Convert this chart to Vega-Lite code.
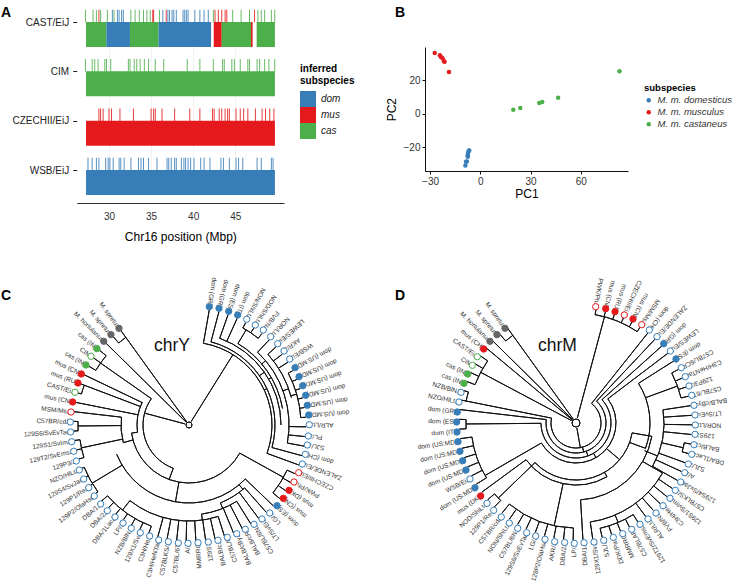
{
"$schema":"https://vega.github.io/schema/vega-lite/v6.json",
"padding":0,
"autosize":{"type":"pad"},
"columns":2,"spacing":0,"bounds":"flush","align":"each",
"resolve":{"scale":{"color":"independent"},"legend":{"color":"independent"}},
"config":{"view":{"stroke":null},"font":"Liberation Sans","title":{"font":"Liberation Sans","fontSize":14,"fontWeight":"bold","anchor":"start","frame":"group","color":"#000"}},
"datasets":{
"blocks":[
{"strain":"CAST/EiJ","start":27.27,"end":29.68,"sub":"cas"},{"strain":"CAST/EiJ","start":29.68,"end":32.49,"sub":"dom"},{"strain":"CAST/EiJ","start":32.49,"end":35.89,"sub":"cas"},{"strain":"CAST/EiJ","start":35.89,"end":42.13,"sub":"dom"},{"strain":"CAST/EiJ","start":42.45,"end":43.4,"sub":"mus"},{"strain":"CAST/EiJ","start":43.4,"end":46.88,"sub":"cas"},{"strain":"CAST/EiJ","start":46.88,"end":47.07,"sub":"mus"},{"strain":"CAST/EiJ","start":47.55,"end":49.72,"sub":"cas"},
{"strain":"CIM","start":27.27,"end":49.72,"sub":"cas"},{"strain":"CZECHII/EiJ","start":27.27,"end":49.72,"sub":"mus"},{"strain":"WSB/EiJ","start":27.27,"end":49.72,"sub":"dom"}],
"snps":[
{"strain":"CAST/EiJ","sub":"cas","pos":27.2},{"strain":"CAST/EiJ","sub":"cas","pos":28.1},{"strain":"CAST/EiJ","sub":"cas","pos":28.5},{"strain":"CAST/EiJ","sub":"cas","pos":29.0},{"strain":"CAST/EiJ","sub":"cas","pos":29.8},{"strain":"CAST/EiJ","sub":"cas","pos":30.6},{"strain":"CAST/EiJ","sub":"cas","pos":32.6},{"strain":"CAST/EiJ","sub":"cas","pos":33.1},{"strain":"CAST/EiJ","sub":"cas","pos":33.6},{"strain":"CAST/EiJ","sub":"cas","pos":34.1},{"strain":"CAST/EiJ","sub":"cas","pos":34.5},{"strain":"CAST/EiJ","sub":"cas","pos":34.9},{"strain":"CAST/EiJ","sub":"cas","pos":36.0},{"strain":"CAST/EiJ","sub":"cas","pos":42.4},{"strain":"CAST/EiJ","sub":"cas","pos":44.7},{"strain":"CAST/EiJ","sub":"cas","pos":45.7},{"strain":"CAST/EiJ","sub":"cas","pos":46.7},{"strain":"CAST/EiJ","sub":"cas","pos":47.7},{"strain":"CAST/EiJ","sub":"cas","pos":48.1},{"strain":"CAST/EiJ","sub":"cas","pos":48.5},{"strain":"CAST/EiJ","sub":"cas","pos":49.3},{"strain":"CAST/EiJ","sub":"cas","pos":49.7},
{"strain":"CAST/EiJ","sub":"dom","pos":30.4},{"strain":"CAST/EiJ","sub":"dom","pos":31.0},{"strain":"CAST/EiJ","sub":"dom","pos":31.2},{"strain":"CAST/EiJ","sub":"dom","pos":31.5},{"strain":"CAST/EiJ","sub":"dom","pos":31.7},{"strain":"CAST/EiJ","sub":"dom","pos":36.4},{"strain":"CAST/EiJ","sub":"dom","pos":37.0},{"strain":"CAST/EiJ","sub":"dom","pos":37.2},{"strain":"CAST/EiJ","sub":"dom","pos":37.5},{"strain":"CAST/EiJ","sub":"dom","pos":37.7},{"strain":"CAST/EiJ","sub":"dom","pos":38.0},{"strain":"CAST/EiJ","sub":"dom","pos":38.8},{"strain":"CAST/EiJ","sub":"dom","pos":39.0},{"strain":"CAST/EiJ","sub":"dom","pos":39.2},{"strain":"CAST/EiJ","sub":"dom","pos":39.4},{"strain":"CAST/EiJ","sub":"dom","pos":40.2},{"strain":"CAST/EiJ","sub":"dom","pos":40.8},{"strain":"CAST/EiJ","sub":"dom","pos":41.3},{"strain":"CAST/EiJ","sub":"dom","pos":41.8},
{"strain":"CAST/EiJ","sub":"mus","pos":28.8},{"strain":"CAST/EiJ","sub":"mus","pos":35.2},{"strain":"CAST/EiJ","sub":"mus","pos":35.3},{"strain":"CAST/EiJ","sub":"mus","pos":36.8},{"strain":"CAST/EiJ","sub":"mus","pos":42.6},{"strain":"CAST/EiJ","sub":"mus","pos":43.0},{"strain":"CAST/EiJ","sub":"mus","pos":43.4},{"strain":"CAST/EiJ","sub":"mus","pos":43.8},{"strain":"CAST/EiJ","sub":"mus","pos":44.0},{"strain":"CAST/EiJ","sub":"mus","pos":47.3},
{"strain":"CIM","sub":"cas","pos":27.2},{"strain":"CIM","sub":"cas","pos":28.0},{"strain":"CIM","sub":"cas","pos":28.3},{"strain":"CIM","sub":"cas","pos":28.7},{"strain":"CIM","sub":"cas","pos":29.5},{"strain":"CIM","sub":"cas","pos":29.7},{"strain":"CIM","sub":"cas","pos":30.2},{"strain":"CIM","sub":"cas","pos":32.3},{"strain":"CIM","sub":"cas","pos":32.5},{"strain":"CIM","sub":"cas","pos":33.0},{"strain":"CIM","sub":"cas","pos":33.3},{"strain":"CIM","sub":"cas","pos":33.7},{"strain":"CIM","sub":"cas","pos":34.2},{"strain":"CIM","sub":"cas","pos":34.7},{"strain":"CIM","sub":"cas","pos":35.5},{"strain":"CIM","sub":"cas","pos":36.5},{"strain":"CIM","sub":"cas","pos":39.3},{"strain":"CIM","sub":"cas","pos":40.8},{"strain":"CIM","sub":"cas","pos":42.4},{"strain":"CIM","sub":"cas","pos":43.5},{"strain":"CIM","sub":"cas","pos":43.7},{"strain":"CIM","sub":"cas","pos":44.6},{"strain":"CIM","sub":"cas","pos":44.9},{"strain":"CIM","sub":"cas","pos":45.6},{"strain":"CIM","sub":"cas","pos":46.5},{"strain":"CIM","sub":"cas","pos":46.7},{"strain":"CIM","sub":"cas","pos":47.6},{"strain":"CIM","sub":"cas","pos":47.9},{"strain":"CIM","sub":"cas","pos":48.5},{"strain":"CIM","sub":"cas","pos":49.0},{"strain":"CIM","sub":"cas","pos":49.7},
{"strain":"CZECHII/EiJ","sub":"mus","pos":28.8},{"strain":"CZECHII/EiJ","sub":"mus","pos":29.0},{"strain":"CZECHII/EiJ","sub":"mus","pos":29.3},{"strain":"CZECHII/EiJ","sub":"mus","pos":30.0},{"strain":"CZECHII/EiJ","sub":"mus","pos":30.3},{"strain":"CZECHII/EiJ","sub":"mus","pos":31.3},{"strain":"CZECHII/EiJ","sub":"mus","pos":32.9},{"strain":"CZECHII/EiJ","sub":"mus","pos":35.0},{"strain":"CZECHII/EiJ","sub":"mus","pos":35.3},{"strain":"CZECHII/EiJ","sub":"mus","pos":35.5},{"strain":"CZECHII/EiJ","sub":"mus","pos":36.3},{"strain":"CZECHII/EiJ","sub":"mus","pos":37.8},{"strain":"CZECHII/EiJ","sub":"mus","pos":39.6},{"strain":"CZECHII/EiJ","sub":"mus","pos":40.8},{"strain":"CZECHII/EiJ","sub":"mus","pos":42.3},{"strain":"CZECHII/EiJ","sub":"mus","pos":42.5},{"strain":"CZECHII/EiJ","sub":"mus","pos":43.1},{"strain":"CZECHII/EiJ","sub":"mus","pos":43.4},{"strain":"CZECHII/EiJ","sub":"mus","pos":43.8},{"strain":"CZECHII/EiJ","sub":"mus","pos":44.1},{"strain":"CZECHII/EiJ","sub":"mus","pos":44.3},{"strain":"CZECHII/EiJ","sub":"mus","pos":45.1},{"strain":"CZECHII/EiJ","sub":"mus","pos":45.6},{"strain":"CZECHII/EiJ","sub":"mus","pos":46.0},{"strain":"CZECHII/EiJ","sub":"mus","pos":46.5},{"strain":"CZECHII/EiJ","sub":"mus","pos":47.4},{"strain":"CZECHII/EiJ","sub":"mus","pos":48.2},{"strain":"CZECHII/EiJ","sub":"mus","pos":48.6},{"strain":"CZECHII/EiJ","sub":"mus","pos":49.1},{"strain":"CZECHII/EiJ","sub":"mus","pos":49.6},
{"strain":"WSB/EiJ","sub":"dom","pos":27.5},{"strain":"WSB/EiJ","sub":"dom","pos":28.0},{"strain":"WSB/EiJ","sub":"dom","pos":28.5},{"strain":"WSB/EiJ","sub":"dom","pos":28.8},{"strain":"WSB/EiJ","sub":"dom","pos":29.6},{"strain":"WSB/EiJ","sub":"dom","pos":29.9},{"strain":"WSB/EiJ","sub":"dom","pos":30.1},{"strain":"WSB/EiJ","sub":"dom","pos":30.5},{"strain":"WSB/EiJ","sub":"dom","pos":31.2},{"strain":"WSB/EiJ","sub":"dom","pos":31.4},{"strain":"WSB/EiJ","sub":"dom","pos":31.8},{"strain":"WSB/EiJ","sub":"dom","pos":32.6},{"strain":"WSB/EiJ","sub":"dom","pos":33.5},{"strain":"WSB/EiJ","sub":"dom","pos":33.8},{"strain":"WSB/EiJ","sub":"dom","pos":34.1},{"strain":"WSB/EiJ","sub":"dom","pos":34.7},{"strain":"WSB/EiJ","sub":"dom","pos":35.7},{"strain":"WSB/EiJ","sub":"dom","pos":36.9},{"strain":"WSB/EiJ","sub":"dom","pos":37.1},{"strain":"WSB/EiJ","sub":"dom","pos":37.4},{"strain":"WSB/EiJ","sub":"dom","pos":37.8},{"strain":"WSB/EiJ","sub":"dom","pos":38.0},{"strain":"WSB/EiJ","sub":"dom","pos":38.6},{"strain":"WSB/EiJ","sub":"dom","pos":38.9},{"strain":"WSB/EiJ","sub":"dom","pos":39.1},{"strain":"WSB/EiJ","sub":"dom","pos":39.4},{"strain":"WSB/EiJ","sub":"dom","pos":39.7},{"strain":"WSB/EiJ","sub":"dom","pos":40.1},{"strain":"WSB/EiJ","sub":"dom","pos":40.9},{"strain":"WSB/EiJ","sub":"dom","pos":41.3},{"strain":"WSB/EiJ","sub":"dom","pos":42.0},{"strain":"WSB/EiJ","sub":"dom","pos":43.3},{"strain":"WSB/EiJ","sub":"dom","pos":43.6},{"strain":"WSB/EiJ","sub":"dom","pos":44.3},{"strain":"WSB/EiJ","sub":"dom","pos":45.1},{"strain":"WSB/EiJ","sub":"dom","pos":45.4},{"strain":"WSB/EiJ","sub":"dom","pos":45.9},{"strain":"WSB/EiJ","sub":"dom","pos":47.6},{"strain":"WSB/EiJ","sub":"dom","pos":48.1},{"strain":"WSB/EiJ","sub":"dom","pos":49.3},{"strain":"WSB/EiJ","sub":"dom","pos":49.5}],
"pca":[
{"s":"M. m. musculus","pc1":-27.2,"pc2":36.4},{"s":"M. m. musculus","pc1":-24.1,"pc2":35},{"s":"M. m. musculus","pc1":-23.5,"pc2":34},{"s":"M. m. musculus","pc1":-22.5,"pc2":33.2},{"s":"M. m. musculus","pc1":-21.7,"pc2":31.4},{"s":"M. m. musculus","pc1":-21.3,"pc2":31.2},{"s":"M. m. musculus","pc1":-18.7,"pc2":25},
{"s":"M. m. castaneus","pc1":19.7,"pc2":2.4},{"s":"M. m. castaneus","pc1":23.9,"pc2":3.4},{"s":"M. m. castaneus","pc1":35.2,"pc2":6.4},{"s":"M. m. castaneus","pc1":37,"pc2":7},{"s":"M. m. castaneus","pc1":46.5,"pc2":9.6},{"s":"M. m. castaneus","pc1":83.1,"pc2":25.4},
{"s":"M. m. domesticus","pc1":-6.8,"pc2":-22.2},{"s":"M. m. domesticus","pc1":-7.2,"pc2":-23},{"s":"M. m. domesticus","pc1":-7.4,"pc2":-24.2},{"s":"M. m. domesticus","pc1":-7.6,"pc2":-25.2},{"s":"M. m. domesticus","pc1":-8.5,"pc2":-28.8},{"s":"M. m. domesticus","pc1":-8.9,"pc2":-31},{"s":"M. m. domesticus","pc1":-8,"pc2":-28.6},{"s":"M. m. domesticus","pc1":-6.6,"pc2":-22},{"s":"M. m. domesticus","pc1":-7.4,"pc2":-25.8}],
"tipsC":[
{"n":"dom (GR)","x":20.3,"y":-118.3,"t":10,"s":83,"k":"dom","o":0},{"n":"dom (GR)","x":30,"y":-116.7,"t":14.8,"s":86,"k":"dom","o":0},{"n":"dom (ES)","x":39.7,"y":-113.7,"t":19.5,"s":92,"k":"dom","o":0},{"n":"dom (IT)","x":48.7,"y":-110,"t":24.3,"s":92,"k":"dom","o":0},
{"n":"NON/ShiLtJ","x":57.7,"y":-105.7,"t":29,"s":111,"k":"dom","o":1},{"n":"NOD/ShiLtJ","x":66.3,"y":-100,"t":33.8,"s":111,"k":"dom","o":1},{"n":"FVB/NJ","x":74.3,"y":-95,"t":38.6,"s":111,"k":"dom","o":1},{"n":"NOR/LtJ","x":81.7,"y":-88.3,"t":43.3,"s":100,"k":"dom","o":1},{"n":"LEWES/EiJ","x":88.7,"y":-81.3,"t":48.1,"s":106,"k":"dom","o":1},{"n":"AKR/J","x":95,"y":-74,"t":52.8,"s":106,"k":"dom","o":1},{"n":"WSB/EiJ","x":100.7,"y":-66,"t":57.6,"s":106,"k":"dom","o":1},
{"n":"dom (US:MD)","x":106,"y":-57.3,"t":62.4,"s":112,"k":"dom","o":0},{"n":"dom (US:MD)","x":110,"y":-48.3,"t":67.1,"s":112,"k":"dom","o":0},{"n":"dom (US:MD)","x":113.7,"y":-39.3,"t":71.9,"s":112,"k":"dom","o":0},{"n":"dom (US:MD)","x":116.7,"y":-29.7,"t":76.6,"s":112,"k":"dom","o":0},{"n":"dom (US:MD)","x":118.3,"y":-19.7,"t":81.4,"s":112,"k":"dom","o":0},{"n":"dom (US:MD)","x":119.7,"y":-10,"t":86.2,"s":112,"k":"dom","o":0},
{"n":"ALR/LtJ","x":120.3,"y":-0.3,"t":90.9,"s":100,"k":"dom","o":1},{"n":"PL/J","x":119.3,"y":11,"t":95.7,"s":100,"k":"dom","o":1},{"n":"SJL/J","x":118.3,"y":20,"t":100.4,"s":100,"k":"dom","o":1},{"n":"dom (CH)","x":116.3,"y":29.3,"t":105.2,"s":86,"k":"dom","o":1},{"n":"ZALENDE/EiJ","x":113.3,"y":39,"t":110,"s":83,"k":"dom","o":1},
{"n":"CZECHII/EiJ","x":109.7,"y":47.7,"t":114.7,"s":108,"k":"mus","o":1},{"n":"PWK/PhJ","x":105,"y":57,"t":119.5,"s":108,"k":"mus","o":1},{"n":"mus (DK)","x":100,"y":65.3,"t":124.2,"s":108,"k":"mus","o":0},{"n":"mus (CN)","x":94.3,"y":73.3,"t":129,"s":108,"k":"mus","o":0},{"n":"dom (ES)","x":88,"y":80.7,"t":133.8,"s":78,"k":"dom","o":0},
{"n":"LG/J","x":80.7,"y":88,"t":138.5,"s":84,"k":"dom","o":1},{"n":"LT/SvEiJ","x":73,"y":94,"t":143.3,"s":84,"k":"dom","o":1},{"n":"C57BL/6NJ","x":65,"y":99.3,"t":148,"s":90,"k":"dom","o":1},{"n":"BALB/cRl","x":56.3,"y":104.3,"t":152.8,"s":90,"k":"dom","o":1},{"n":"BALB/cByJ","x":47.7,"y":108.7,"t":157.6,"s":90,"k":"dom","o":1},{"n":"C57BL/6","x":38.3,"y":112.3,"t":162.3,"s":96,"k":"dom","o":1},{"n":"BALB/cJ","x":29,"y":115.3,"t":167.1,"s":96,"k":"dom","o":1},{"n":"129S7","x":19.3,"y":117,"t":171.8,"s":96,"k":"dom","o":1},{"n":"MMRRC","x":9,"y":117.7,"t":176.6,"s":96,"k":"dom","o":1},{"n":"A/J","x":-1,"y":118.3,"t":181.4,"s":96,"k":"dom","o":1},{"n":"C57BL/6T","x":-10.7,"y":118,"t":186.1,"s":96,"k":"dom","o":1},{"n":"C57BLKS/J","x":-20.7,"y":116.7,"t":190.9,"s":96,"k":"dom","o":1},{"n":"C3H/HeNTac","x":-30.3,"y":115,"t":195.6,"s":96,"k":"dom","o":1},
{"n":"C3H/HeJ","x":-39.3,"y":111,"t":200.4,"s":108,"k":"dom","o":1},{"n":"129X1/SvJ","x":-48.7,"y":107.7,"t":205.2,"s":108,"k":"dom","o":1},{"n":"NZB/BlNJ","x":-57.7,"y":103.3,"t":209.9,"s":108,"k":"dom","o":1},{"n":"LP/J","x":-66,"y":98,"t":214.7,"s":108,"k":"dom","o":1},{"n":"DBA/1LacJ","x":-74,"y":92,"t":219.4,"s":108,"k":"dom","o":1},{"n":"DBA/2J","x":-81.7,"y":85.7,"t":224.2,"s":108,"k":"dom","o":1},{"n":"DBA/1J","x":-88.3,"y":79,"t":229,"s":108,"k":"dom","o":1},
{"n":"129P2/OlaHsd","x":-94.7,"y":71,"t":233.7,"s":113,"k":"dom","o":1},{"n":"129P1/ReJ","x":-100.3,"y":62.7,"t":238.5,"s":113,"k":"dom","o":1},{"n":"129S4/SvJae","x":-105.3,"y":54,"t":243.2,"s":113,"k":"dom","o":1},{"n":"NZO/HlLtJ","x":-109.7,"y":45,"t":248,"s":113,"k":"dom","o":1},{"n":"129P3/J","x":-112.7,"y":36,"t":252.8,"s":110,"k":"dom","o":1},{"n":"129T2/SvEmsJ","x":-115.3,"y":26.3,"t":257.5,"s":110,"k":"dom","o":1},{"n":"129S1/SvImJ","x":-117.3,"y":16.7,"t":262.3,"s":110,"k":"dom","o":1},{"n":"129S6/SvEvTac","x":-118.3,"y":7,"t":267,"s":111,"k":"dom","o":1},{"n":"C57BR/cdJ","x":-118.7,"y":-3,"t":271.8,"s":111,"k":"dom","o":1},
{"n":"MSM/MsJ","x":-118,"y":-13,"t":276.6,"s":68,"k":"mus","o":1},{"n":"mus (CN)","x":-116.3,"y":-23,"t":281.3,"s":52,"k":"mus","o":0},{"n":"CAST/EiJ","x":-114,"y":-32.7,"t":286.1,"s":112,"k":"cas","o":1},{"n":"mus (RU)","x":-111,"y":-42,"t":290.8,"s":52,"k":"mus","o":0},{"n":"mus (CN)","x":-107.7,"y":-51,"t":295.6,"s":52,"k":"mus","o":0},{"n":"cas (IN)","x":-103,"y":-60,"t":300.4,"s":108,"k":"cas","o":0},{"n":"CIM","x":-98,"y":-68.7,"t":305.1,"s":108,"k":"cas","o":1},{"n":"cas (IN)","x":-92,"y":-76.3,"t":309.9,"s":108,"k":"cas","o":0},
{"n":"M. hortulanus","x":-85.3,"y":-83.7,"t":314.6,"s":4,"k":"out","o":0},{"n":"M. spretus","x":-78,"y":-90.3,"t":319.4,"s":108,"k":"out","o":0},{"n":"M. spretus","x":-70,"y":-96.7,"t":324.2,"s":4,"k":"out","o":0}],
"tipsD":[
{"n":"PWK/PhJ","x":19.7,"y":-116.3,"t":10,"s":110,"k":"mus","o":1},{"n":"mus (CN)","x":29.7,"y":-114.3,"t":14.8,"s":110,"k":"mus","o":0},{"n":"mus (RU)","x":39,"y":-111.3,"t":19.5,"s":110,"k":"mus","o":0},{"n":"CZECHII/EiJ","x":48.3,"y":-108,"t":24.3,"s":110,"k":"mus","o":1},{"n":"mus (CN)","x":57,"y":-104,"t":29,"s":110,"k":"mus","o":0},{"n":"MSM/MsJ","x":65.7,"y":-98.3,"t":33.8,"s":110,"k":"mus","o":1},
{"n":"dom (CH)","x":73.3,"y":-93,"t":38.6,"s":25,"k":"dom","o":1},{"n":"ZALENDE/EiJ","x":81,"y":-86.3,"t":43.3,"s":30,"k":"dom","o":1},{"n":"dom (GR)","x":87.7,"y":-79.3,"t":48.1,"s":35,"k":"dom","o":0},{"n":"LEWES/EiJ","x":94.3,"y":-72,"t":52.8,"s":40,"k":"dom","o":1},{"n":"dom (ES)","x":100,"y":-64,"t":57.6,"s":74,"k":"dom","o":0},
{"n":"C57BL/6CR","x":105.3,"y":-55.3,"t":62.4,"s":108,"k":"dom","o":1},{"n":"C3H/HeNTac","x":109.3,"y":-46.3,"t":67.1,"s":108,"k":"dom","o":1},{"n":"129P3/J","x":113,"y":-37,"t":71.9,"s":108,"k":"dom","o":1},{"n":"C57BL/6T","x":115.7,"y":-27.7,"t":76.6,"s":108,"k":"dom","o":1},
{"n":"BALB/cByJ","x":118,"y":-17.7,"t":81.4,"s":88,"k":"dom","o":1},{"n":"LT/SvEiJ","x":119,"y":-8,"t":86.2,"s":88,"k":"dom","o":1},{"n":"NOR/LtJ","x":119.3,"y":2,"t":90.9,"s":88,"k":"dom","o":1},{"n":"129S7","x":119,"y":11.3,"t":95.7,"s":88,"k":"dom","o":1},{"n":"BALB/cJ","x":118,"y":21.7,"t":100.4,"s":110,"k":"dom","o":1},{"n":"DBA/1LacJ","x":115.7,"y":31.3,"t":105.2,"s":110,"k":"dom","o":1},{"n":"SJL/J","x":112.3,"y":41,"t":110,"s":88,"k":"dom","o":1},{"n":"A/J","x":108.7,"y":49.7,"t":114.7,"s":88,"k":"dom","o":1},{"n":"129S4/SvJae","x":104.7,"y":59,"t":119.5,"s":88,"k":"dom","o":1},
{"n":"C57BLKS/J","x":99.3,"y":67.3,"t":124.2,"s":100,"k":"dom","o":1},{"n":"129S1/SvImJ","x":94,"y":75.3,"t":129,"s":100,"k":"dom","o":1},{"n":"C3H/HeJ","x":87,"y":82.7,"t":133.8,"s":100,"k":"dom","o":1},{"n":"FVB/NJ","x":80,"y":90,"t":138.5,"s":100,"k":"dom","o":1},{"n":"ALR/LtJ","x":72,"y":96,"t":143.3,"s":100,"k":"dom","o":1},
{"n":"129T2/SvEmsJ","x":64,"y":101.3,"t":148,"s":108,"k":"dom","o":1},{"n":"C57BLAR","x":55.7,"y":106.3,"t":152.8,"s":108,"k":"dom","o":1},{"n":"MMRRC","x":46.7,"y":110.7,"t":157.6,"s":108,"k":"dom","o":1},{"n":"DDK/Pas","x":37.3,"y":114.3,"t":162.3,"s":108,"k":"dom","o":1},{"n":"SJL/J","x":27.7,"y":117.3,"t":167.1,"s":108,"k":"dom","o":1},{"n":"129X1/SvJ","x":18,"y":119,"t":171.8,"s":100,"k":"dom","o":1},{"n":"DBA/1J","x":8,"y":119.7,"t":176.6,"s":77,"k":"dom","o":1},
{"n":"LP/J","x":-1.7,"y":120.3,"t":181.4,"s":105,"k":"dom","o":1},{"n":"DBA/2J","x":-11.3,"y":119.5,"t":186.1,"s":105,"k":"dom","o":1},{"n":"AKR/J","x":-21.3,"y":118.7,"t":190.9,"s":105,"k":"dom","o":1},{"n":"129P2/OlaHsd","x":-31,"y":116.3,"t":195.6,"s":105,"k":"dom","o":1},{"n":"LG/J","x":-40.3,"y":113,"t":200.4,"s":105,"k":"dom","o":1},{"n":"129S6/SvEvTac","x":-49.3,"y":109.7,"t":205.2,"s":105,"k":"dom","o":1},{"n":"C57BL/6NJ","x":-58.3,"y":105.3,"t":209.9,"s":105,"k":"dom","o":1},{"n":"NON/ShiLtJ","x":-66.7,"y":100,"t":214.7,"s":105,"k":"dom","o":1},{"n":"C57BR/cdJ","x":-74.7,"y":94,"t":219.4,"s":105,"k":"dom","o":1},
{"n":"129P1/ReJ","x":-82.3,"y":87.3,"t":224.2,"s":108,"k":"dom","o":1},{"n":"NOD/ShiLtJ","x":-89,"y":80.3,"t":229,"s":108,"k":"dom","o":1},
{"n":"mus (DK)","x":-95.3,"y":73,"t":233.7,"s":62,"k":"mus","o":0},{"n":"dom (US:MD)","x":-101,"y":64.7,"t":238.5,"s":105,"k":"dom","o":0},{"n":"WSB/EiJ","x":-106,"y":56,"t":243.2,"s":105,"k":"dom","o":1},{"n":"dom (US:MD)","x":-110,"y":47,"t":248,"s":105,"k":"dom","o":0},{"n":"dom (US:MD)","x":-113.3,"y":37.7,"t":252.8,"s":105,"k":"dom","o":0},{"n":"dom (US:MD)","x":-116,"y":28.3,"t":257.5,"s":105,"k":"dom","o":0},{"n":"dom (US:MD)","x":-118,"y":18.7,"t":262.3,"s":105,"k":"dom","o":0},
{"n":"dom (IT)","x":-119,"y":9,"t":267,"s":110,"k":"dom","o":0},{"n":"dom (ES)","x":-119.3,"y":-1,"t":271.8,"s":110,"k":"dom","o":0},{"n":"dom (GR)","x":-118.7,"y":-11,"t":276.6,"s":30,"k":"dom","o":0},{"n":"NZO/HlLtJ","x":-117,"y":-21,"t":281.3,"s":25,"k":"dom","o":1},{"n":"NZB/BlNJ","x":-115,"y":-30.7,"t":286.1,"s":112,"k":"dom","o":1},
{"n":"cas (IN)","x":-112,"y":-39.7,"t":290.8,"s":108,"k":"cas","o":0},{"n":"cas (IN)","x":-108.3,"y":-49,"t":295.6,"s":108,"k":"cas","o":0},{"n":"CIM","x":-103.7,"y":-57.7,"t":300.4,"s":108,"k":"cas","o":1},{"n":"CAST/EiJ","x":-98.7,"y":-66.3,"t":305.1,"s":108,"k":"cas","o":1},{"n":"mus (CH)","x":-92.3,"y":-74,"t":309.9,"s":5,"k":"mus","o":0},{"n":"M. hortulanus","x":-86,"y":-81.7,"t":314.6,"s":5,"k":"out","o":0},{"n":"M. spretus","x":-79,"y":-88.3,"t":319.4,"s":108,"k":"out","o":0},{"n":"M. spretus","x":-71,"y":-94.7,"t":324.2,"s":5,"k":"out","o":0}],
"segC":[
{"t":0,"t2":360,"r":3,"r2":3},{"t":32,"t2":32,"r":4,"r2":83},{"t":10,"t2":110,"r":83,"r2":83},{"t":14.8,"t2":105.2,"r":86,"r2":86},{"t":19.5,"t2":90,"r":92,"r2":92},{"t":31,"t2":80,"r":95,"r2":95},{"t":31,"t2":31,"r":95,"r2":111},{"t":29,"t2":38.6,"r":111,"r2":111},{"t":43.3,"t2":100.4,"r":100,"r2":100},{"t":48.1,"t2":75,"r":106,"r2":106},{"t":62.4,"t2":86.2,"r":112,"r2":112},{"t":74,"t2":74,"r":106,"r2":112},{"t":65,"t2":65,"r":83,"r2":86},{"t":55,"t2":55,"r":86,"r2":92},{"t":60,"t2":60,"r":92,"r2":95},{"t":50,"t2":50,"r":95,"r2":100},{"t":70,"t2":70,"r":100,"r2":106},
{"t":285,"t2":285,"r":4,"r2":46},{"t":200,"t2":305,"r":46,"r2":46},{"t":305,"t2":305,"r":46,"r2":108},{"t":300.4,"t2":309.9,"r":108,"r2":108},{"t":200,"t2":200,"r":46,"r2":58},{"t":119,"t2":262,"r":58,"r2":58},{"t":119,"t2":119,"r":58,"r2":108},{"t":114.7,"t2":129,"r":108,"r2":108},{"t":262,"t2":262,"r":52,"r2":58},{"t":262,"t2":296,"r":52,"r2":52},{"t":286.1,"t2":290.8,"r":112,"r2":112},{"t":255,"t2":255,"r":58,"r2":68},{"t":255,"t2":276.6,"r":68,"r2":68},{"t":258,"t2":258,"r":68,"r2":110},{"t":252.8,"t2":262.3,"r":110,"r2":110},{"t":269.5,"t2":269.5,"r":68,"r2":111},{"t":267,"t2":271.8,"r":111,"r2":111},
{"t":190,"t2":190,"r":58,"r2":78},{"t":133.8,"t2":248,"r":78,"r2":78},{"t":239,"t2":239,"r":78,"r2":113},{"t":233.7,"t2":248,"r":113,"r2":113},{"t":140,"t2":140,"r":78,"r2":84},{"t":138.5,"t2":158,"r":84,"r2":84},{"t":158,"t2":158,"r":84,"r2":90},{"t":148,"t2":172,"r":90,"r2":90},{"t":172,"t2":172,"r":90,"r2":96},{"t":162.3,"t2":218,"r":96,"r2":96},{"t":218,"t2":218,"r":96,"r2":108},{"t":200.4,"t2":229,"r":108,"r2":108},{"t":319.4,"t2":324.2,"r":108,"r2":108}],
"segD":[
{"t":0,"t2":360,"r":4,"r2":4},{"t":15,"t2":15,"r":5,"r2":110},{"t":10,"t2":33.8,"r":110,"r2":110},{"t":170,"t2":170,"r":5,"r2":25},{"t":38.6,"t2":281.3,"r":25,"r2":25},{"t":281.3,"t2":286.1,"r":112,"r2":112},{"t":43.3,"t2":276.6,"r":30,"r2":30},{"t":165,"t2":165,"r":25,"r2":30},{"t":48.1,"t2":269.5,"r":35,"r2":35},{"t":160,"t2":160,"r":30,"r2":35},{"t":269.5,"t2":269.5,"r":35,"r2":110},{"t":267,"t2":271.8,"r":110,"r2":110},{"t":52.8,"t2":240,"r":40,"r2":40},{"t":150,"t2":150,"r":35,"r2":40},{"t":240,"t2":240,"r":40,"r2":105},{"t":238.5,"t2":262.3,"r":105,"r2":105},
{"t":130,"t2":130,"r":40,"r2":57},{"t":100,"t2":226,"r":57,"r2":57},{"t":226,"t2":226,"r":57,"r2":108},{"t":224.2,"t2":229,"r":108,"r2":108},{"t":57.6,"t2":110,"r":74,"r2":74},{"t":110,"t2":110,"r":57,"r2":74},{"t":70,"t2":70,"r":74,"r2":108},{"t":62.4,"t2":76.6,"r":108,"r2":108},{"t":81.4,"t2":119.5,"r":88,"r2":88},{"t":112,"t2":112,"r":74,"r2":88},{"t":103,"t2":103,"r":88,"r2":110},{"t":100.4,"t2":105.2,"r":110,"r2":110},{"t":100,"t2":176.6,"r":77,"r2":77},{"t":100,"t2":100,"r":57,"r2":77},{"t":120,"t2":171.8,"r":100,"r2":100},{"t":120,"t2":120,"r":77,"r2":100},{"t":157,"t2":157,"r":100,"r2":108},{"t":148,"t2":167.1,"r":108,"r2":108},{"t":150,"t2":192,"r":62,"r2":62},{"t":150,"t2":150,"r":57,"r2":62},{"t":192,"t2":192,"r":62,"r2":105},{"t":181.4,"t2":219.4,"r":105,"r2":105},{"t":192,"t2":233.7,"r":62,"r2":62},
{"t":298,"t2":298,"r":5,"r2":108},{"t":290.8,"t2":305.1,"r":108,"r2":108},{"t":319.4,"t2":324.2,"r":108,"r2":108}]
},
"concat":[
{"width":390,"height":203,
 "title":{"text":"A","offset":-20,"dx":1},
 "layer":[
 {"data":{"name":"blocks"},"mark":{"type":"bar","height":25,"yOffset":12.5},
  "encoding":{"x":{"field":"start","type":"quantitative","scale":{"domain":[26.16,50.8],"range":[76.7,284],"nice":false,"zero":false},
     "axis":{"title":"Chr16 position (Mbp)","values":[30,35,40,45],"grid":true,"gridColor":"#f2f2f2","domainColor":"#333","tickSize":0,"labelFontSize":10,"labelColor":"#333","labelPadding":8,"titleFontSize":12,"titleFontWeight":"normal","titlePadding":10,"format":"d"}},
   "x2":{"field":"end"},
   "y":{"field":"strain","type":"nominal","scale":{"type":"point","padding":0,"domain":["CAST/EiJ","CIM","CZECHII/EiJ","WSB/EiJ"],"range":[22,170]},
     "axis":{"title":null,"offset":-76.7,"domain":false,"tickSize":4,"tickColor":"#222","labelFontSize":10,"labelColor":"#222","labelPadding":4}},
   "color":{"field":"sub","type":"nominal","scale":{"domain":["dom","mus","cas"],"range":["#377EB8","#E41A1C","#4DAF4A"]},
     "legend":{"title":["inferred","subspecies"],"orient":"none","legendX":300,"legendY":64,"symbolType":"square","symbolSize":256,"symbolStrokeWidth":0,"symbolOpacity":1,"rowPadding":0,"labelFontStyle":"italic","labelFontSize":10,"labelOffset":5,"titleFontSize":10,"titleFontWeight":"bold","titlePadding":5,"labelColor":"#222"}}}},
 {"data":{"name":"snps"},"mark":{"type":"tick","size":12.5,"thickness":1,"yOffset":-6,"opacity":0.85},
  "encoding":{"x":{"field":"pos","type":"quantitative"},"y":{"field":"strain","type":"nominal"},"color":{"field":"sub","type":"nominal","legend":null}}}
 ]},
{"width":353,"height":203,
 "title":{"text":"B","offset":-20,"dx":5},
 "data":{"name":"pca"},
 "mark":{"type":"point","filled":true,"size":20,"opacity":1},
 "encoding":{
  "x":{"field":"pc1","type":"quantitative","scale":{"domain":[-33,88.2],"range":[35,238],"nice":false,"zero":false},
    "axis":{"title":"PC1","offset":-32,"values":[-30,0,30,60],"grid":false,"domainColor":"#111","tickColor":"#111","tickSize":3,"labelFontSize":10,"labelColor":"#333","labelPadding":2,"titleFontSize":12,"titleFontWeight":"normal","titlePadding":2}},
  "y":{"field":"pc2","type":"quantitative","scale":{"domain":[-34.5,40],"range":[171.3,47],"nice":false,"zero":false},
    "axis":{"title":"PC2","offset":-35,"values":[-20,0,20],"grid":false,"domainColor":"#111","tickColor":"#111","tickSize":3,"labelFontSize":10,"labelColor":"#333","labelPadding":2,"titleFontSize":12,"titleFontWeight":"normal","titlePadding":5}},
  "color":{"field":"s","type":"nominal","scale":{"domain":["M. m. domesticus","M. m. musculus","M. m. castaneus"],"range":["#377EB8","#E41A1C","#4DAF4A"]},
    "legend":{"title":"subspecies","orient":"none","legendX":254,"legendY":83,"symbolType":"circle","symbolSize":20,"rowPadding":1,"labelFontStyle":"italic","labelFontSize":9.5,"labelColor":"#333","titleFontSize":9.5,"titleFontWeight":"bold","titlePadding":3,"labelOffset":4}}}},
{"width":390,"height":382,
 "title":{"text":"C","offset":-100,"dx":1},
 "layer":[
 {"data":{"name":"segC"},"mark":{"type":"arc","filled":false,"stroke":"#111","strokeWidth":1},
  "encoding":{"x":{"datum":0,"type":"quantitative","scale":{"domain":[-189,201],"nice":false,"zero":false},"axis":null},"y":{"datum":0,"type":"quantitative","scale":{"domain":[-222,160],"range":[0,382],"nice":false,"zero":false},"axis":null},
   "theta":{"field":"t","type":"quantitative","stack":null,"scale":{"domain":[0,360],"range":[0,6.283185]}},"theta2":{"field":"t2"},
   "radius":{"field":"r","type":"quantitative","scale":{"type":"linear","domain":[0,150],"range":[0,150],"zero":false}},"radius2":{"field":"r2"}}},
 {"data":{"name":"tipsC"},"mark":{"type":"arc","filled":false,"stroke":"#111","strokeWidth":1},
  "encoding":{"x":{"datum":0,"type":"quantitative"},"y":{"datum":0,"type":"quantitative"},
   "theta":{"field":"t","type":"quantitative","stack":null},"theta2":{"field":"t"},
   "radius":{"field":"s","type":"quantitative"},"radius2":{"datum":117}}},
 {"data":{"name":"tipsC"},"mark":{"type":"text","align":"right","baseline":"middle","dx":-1,"fontSize":6.5,"fill":"#333"},
  "encoding":{"x":{"field":"x","type":"quantitative"},"y":{"field":"y","type":"quantitative"},"text":{"field":"n"},"angle":{"field":"t","type":"quantitative","scale":{"domain":[0,360],"range":[90,450]}}}},
 {"data":{"name":"tipsC"},"mark":{"type":"point","shape":"circle","filled":true,"size":40,"strokeWidth":1,"opacity":1},
  "encoding":{"x":{"field":"x","type":"quantitative"},"y":{"field":"y","type":"quantitative"},
   "fill":{"condition":{"test":"datum.o==1","value":"#ffffff"},"field":"k","type":"nominal","scale":{"domain":["dom","mus","cas","out"],"range":["#377EB8","#E41A1C","#4DAF4A","#666666"]},"legend":null},
   "stroke":{"field":"k","type":"nominal","scale":{"domain":["dom","mus","cas","out"],"range":["#377EB8","#E41A1C","#4DAF4A","#666666"]},"legend":null}}},
 {"data":{"values":[{"name":"chrY","x":-17,"y":-79}]},"mark":{"type":"text","fontSize":17.5,"fill":"#111"},
  "encoding":{"x":{"field":"x","type":"quantitative"},"y":{"field":"y","type":"quantitative"},"text":{"field":"name"}}}
 ]},
{"width":353,"height":382,
 "title":{"text":"D","offset":-100,"dx":5},
 "layer":[
 {"data":{"name":"segD"},"mark":{"type":"arc","filled":false,"stroke":"#111","strokeWidth":1},
  "encoding":{"x":{"datum":0,"type":"quantitative","scale":{"domain":[-186,167],"nice":false,"zero":false},"axis":null},"y":{"datum":0,"type":"quantitative","scale":{"domain":[-220,162],"range":[0,382],"nice":false,"zero":false},"axis":null},
   "theta":{"field":"t","type":"quantitative","stack":null,"scale":{"domain":[0,360],"range":[0,6.283185]}},"theta2":{"field":"t2"},
   "radius":{"field":"r","type":"quantitative","scale":{"type":"linear","domain":[0,150],"range":[0,150],"zero":false}},"radius2":{"field":"r2"}}},
 {"data":{"name":"tipsD"},"mark":{"type":"arc","filled":false,"stroke":"#111","strokeWidth":1},
  "encoding":{"x":{"datum":0,"type":"quantitative"},"y":{"datum":0,"type":"quantitative"},
   "theta":{"field":"t","type":"quantitative","stack":null},"theta2":{"field":"t"},
   "radius":{"field":"s","type":"quantitative"},"radius2":{"datum":117}}},
 {"data":{"name":"tipsD"},"mark":{"type":"text","align":"right","baseline":"middle","dx":-1,"fontSize":6.5,"fill":"#333"},
  "encoding":{"x":{"field":"x","type":"quantitative"},"y":{"field":"y","type":"quantitative"},"text":{"field":"n"},"angle":{"field":"t","type":"quantitative","scale":{"domain":[0,360],"range":[90,450]}}}},
 {"data":{"name":"tipsD"},"mark":{"type":"point","shape":"circle","filled":true,"size":40,"strokeWidth":1,"opacity":1},
  "encoding":{"x":{"field":"x","type":"quantitative"},"y":{"field":"y","type":"quantitative"},
   "fill":{"condition":{"test":"datum.o==1","value":"#ffffff"},"field":"k","type":"nominal","scale":{"domain":["dom","mus","cas","out"],"range":["#377EB8","#E41A1C","#4DAF4A","#666666"]},"legend":null},
   "stroke":{"field":"k","type":"nominal","scale":{"domain":["dom","mus","cas","out"],"range":["#377EB8","#E41A1C","#4DAF4A","#666666"]},"legend":null}}},
 {"data":{"values":[{"name":"chrM","x":-18.5,"y":-77}]},"mark":{"type":"text","fontSize":17.5,"fill":"#111"},
  "encoding":{"x":{"field":"x","type":"quantitative"},"y":{"field":"y","type":"quantitative"},"text":{"field":"name"}}}
 ]}
]
}
